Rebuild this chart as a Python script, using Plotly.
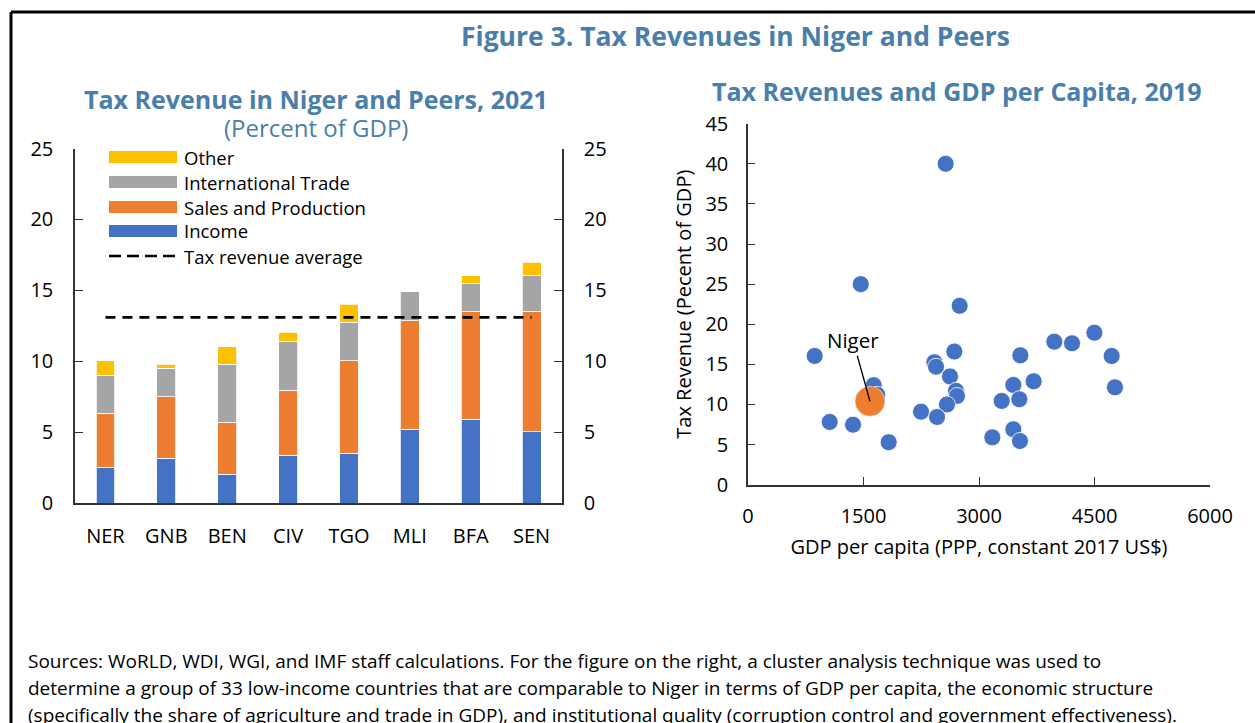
import plotly.graph_objects as go

# ---------------- data ----------------
countries = ["NER", "GNB", "BEN", "CIV", "TGO", "MLI", "BFA", "SEN"]
income = [2.51, 3.17, 2.04, 3.40, 3.52, 5.21, 5.92, 5.04]
sales_production = [3.83, 4.34, 3.66, 4.58, 6.52, 7.65, 7.58, 8.48]
international_trade = [2.67, 1.99, 4.09, 3.40, 2.71, 2.09, 1.97, 2.51]
other = [1.03, 0.29, 1.24, 0.66, 1.26, 0.00, 0.56, 0.94]
tax_revenue_average = 13.1

peer_gdp_pc = [2567, 1464, 2749, 866, 2680, 2420, 2442, 2623, 1632, 1679,
               2701, 2714, 2584, 2247, 2455, 1061, 1364, 1827, 3173, 3295,
               3446, 3532, 3446, 3524, 3537, 3710, 3978, 4208, 4498, 4723, 4766]
peer_tax = [40.0, 25.0, 22.3, 16.05, 16.6, 15.26, 14.7, 13.5, 12.4, 11.2,
            11.7, 11.06, 10.0, 9.1, 8.44, 7.82, 7.48, 5.29, 5.9, 10.44,
            6.9, 5.45, 12.43, 10.65, 16.13, 12.89, 17.83, 17.63, 18.95, 16.05, 12.14]
niger_gdp_pc = [1584]
niger_tax = [10.4]

# ---------------- style ----------------
W, H = 1255, 723
FONT = "Open Sans"
TITLE_BLUE = "#4A7EAB"
C_INCOME, C_SALES, C_TRADE, C_OTHER = "#4472C4", "#ED7D31", "#A5A5A5", "#FFC000"
AX = "#333333"


def xp(px):
    return px / W


def yp(py):
    return 1 - py / H


fig = go.Figure()

series = [("Income", income, C_INCOME), ("Sales and Production", sales_production, C_SALES),
          ("International Trade", international_trade, C_TRADE), ("Other", other, C_OTHER)]
for name, vals, col in series:
    fig.add_trace(go.Bar(x=countries, y=vals, name=name, marker=dict(color=col, line=dict(color="white", width=0.8)),
                         xaxis="x", yaxis="y", showlegend=False))

fig.add_trace(go.Scatter(x=countries, y=[tax_revenue_average] * len(countries), mode="lines",
                         line=dict(color="black", width=2.6, dash="10px,7px"), xaxis="x", yaxis="y3",
                         name="Tax revenue average", showlegend=False))

fig.add_trace(go.Scatter(x=peer_gdp_pc, y=peer_tax, mode="markers", xaxis="x2", yaxis="y2",
                         marker=dict(size=17, color=C_INCOME, line=dict(color="white", width=0.8)),
                         showlegend=False))
fig.add_trace(go.Scatter(x=niger_gdp_pc, y=niger_tax, mode="markers", xaxis="x2", yaxis="y2",
                         marker=dict(size=30, color=C_SALES, line=dict(color="white", width=0.5)),
                         showlegend=False))

tickfont = dict(family=FONT, size=20, color="black")
common = dict(showline=True, linecolor=AX, linewidth=1.5, showgrid=False, zeroline=False, automargin=False,
              tickfont=tickfont, tickcolor=AX)

fig.update_layout(
    template="none",
    width=W, height=H, margin=dict(l=0, r=0, t=0, b=0, pad=0), autosize=False,
    paper_bgcolor="white", plot_bgcolor="white",
    font=dict(family=FONT, color="black"),
    barmode="stack", bargap=0.69,
    xaxis=dict(domain=[xp(75), xp(562)], type="category", range=[-0.5, 7.5], ticks="",
               ticklabelstandoff=14, anchor="y", **common),
    yaxis=dict(domain=[yp(503.3), yp(148.5)], range=[0, 25], dtick=5, ticks="inside", ticklen=8,
               ticklabelstandoff=16, anchor="x", **common),
    yaxis3=dict(overlaying="y", side="right", range=[0, 25], dtick=5, ticks="inside", ticklen=8,
                ticklabelstandoff=16, anchor="x", **common),
    xaxis2=dict(domain=[xp(748), xp(1210)], range=[0, 6000], dtick=1500, ticks="inside", ticklen=8,
                ticklabelstandoff=13, anchor="y2",
                title=dict(text="GDP per capita (PPP, constant 2017 US$)", font=tickfont, standoff=12), **common),
    yaxis2=dict(domain=[yp(484.7), yp(123.7)], range=[0, 45], dtick=5, ticks="inside", ticklen=7,
                ticklabelstandoff=14, anchor="x2",
                title=dict(text="Tax Revenue (Pecent of GDP)", font=tickfont, standoff=8), **common),
)


def text_ann(text, x, y, size, color="black", xanchor="center"):
    return dict(text=text, x=xp(x), y=yp(y), xref="paper", yref="paper", xanchor=xanchor, yanchor="middle",
                showarrow=False, font=dict(family=FONT, size=size, color=color))


anns = [
    text_ann("<b>Figure 3. Tax Revenues in Niger and Peers</b>", 735, 36, 26.5, TITLE_BLUE),
    text_ann("<b>Tax Revenue in Niger and Peers, 2021</b>", 316, 99, 25, TITLE_BLUE),
    text_ann("(Percent of GDP)", 316, 127, 24, TITLE_BLUE),
    text_ann("<b>Tax Revenues and GDP per Capita, 2019</b>", 957, 91, 25, TITLE_BLUE),
]

# Niger label
anns.append(dict(text="Niger", x=niger_gdp_pc[0], y=niger_tax[0], xref="x2", yref="y2", ax=-17, ay=-61,
                 showarrow=True, arrowhead=0, arrowwidth=1.3, arrowcolor="black", standoff=0,
                 font=dict(family=FONT, size=20.5, color="black")))

# legend (manual)
legend_rows = [("Other", C_OTHER, 157), ("International Trade", C_TRADE, 182),
               ("Sales and Production", C_SALES, 207), ("Income", C_INCOME, 231)]
shapes = []
for label, col, yc in legend_rows:
    shapes.append(dict(type="rect", xref="paper", yref="paper", x0=xp(109), x1=xp(177), y0=yp(yc + 6),
                       y1=yp(yc - 6), fillcolor=col, line=dict(width=0)))
    anns.append(text_ann(label, 182, yc, 18.5, xanchor="left"))
shapes.append(dict(type="line", xref="paper", yref="paper", x0=xp(109), x1=xp(175), y0=yp(256), y1=yp(256),
                   line=dict(color="black", width=2.6, dash="12px,6px")))
anns.append(text_ann("Tax revenue average", 182, 256, 18.5, xanchor="left"))

# frame
shapes.append(dict(type="line", xref="paper", yref="paper", x0=xp(11), x1=xp(1260), y0=yp(12), y1=yp(12),
                   line=dict(color="black", width=3)))
shapes.append(dict(type="line", xref="paper", yref="paper", x0=xp(11), x1=xp(11), y0=yp(12), y1=yp(740),
                   line=dict(color="black", width=3)))

notes = ["Sources: WoRLD, WDI, WGI, and IMF staff calculations. For the figure on the right, a cluster analysis technique was used to",
         "determine a group of 33 low-income countries that are comparable to Niger in terms of GDP per capita, the economic structure",
         "(specifically the share of agriculture and trade in GDP), and institutional quality (corruption control and government effectiveness)."]
for i, line in enumerate(notes):
    anns.append(text_ann(line, 26, 661 + 27 * i, 19, xanchor="left"))

fig.update_layout(annotations=anns, shapes=shapes)
fig.write_html("out.html", config={"displayModeBar": False},
               post_script="document.body.style.margin='0';document.body.style.overflow='hidden';")
